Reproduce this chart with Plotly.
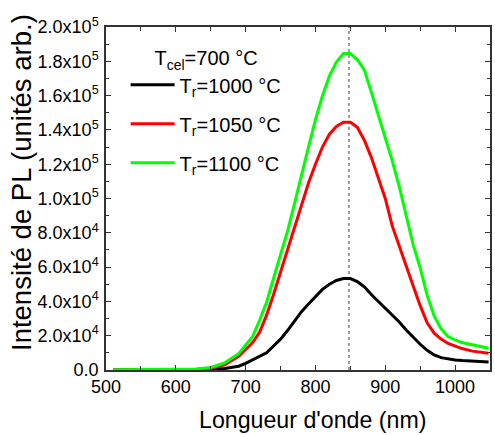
import plotly.graph_objects as go

# Wavelength sampling (nm)
wavelength = [510, 560, 600, 630, 650, 670, 690,
              700, 710, 720, 730, 740, 750, 760, 770, 780, 790, 800, 810, 820, 830, 840,
              850, 860, 870, 880, 890, 900, 910, 920, 930, 940, 950, 960, 970, 980, 990,
              1000, 1010, 1025, 1048]

# PL intensity (in units of 1e4, arb.)
pl_1000 = [0.02, 0.02, 0.02, 0.02, 0.04, 0.09, 0.22,
           0.39, 0.6, 0.78, 1.0, 1.4, 1.8, 2.3, 2.85, 3.4, 3.85, 4.3, 4.7, 5.0, 5.22, 5.33,
           5.33, 5.15, 4.85, 4.4, 4.0, 3.6, 3.25, 2.8, 2.33, 1.9, 1.5, 1.15, 0.88, 0.72, 0.63,
           0.58, 0.55, 0.51, 0.47]
pl_1050 = [0.02, 0.02, 0.03, 0.05, 0.1, 0.3, 0.8,
           1.2, 1.6, 2.2, 3.2, 4.4, 5.7, 7.0, 8.3, 9.6, 10.9, 12.0, 13.0, 13.75, 14.2, 14.45,
           14.45, 14.15, 13.4, 12.4, 11.2, 10.0, 8.4, 7.2, 6.0, 4.9, 3.75, 2.75, 2.15, 1.8, 1.55,
           1.38, 1.25, 1.1, 0.97]
pl_1100 = [0.02, 0.02, 0.03, 0.06, 0.15, 0.42, 0.95,
           1.46, 1.95, 2.9, 3.95, 5.35, 6.7, 8.1, 9.7, 11.4, 13.0, 14.6, 16.0, 17.15, 17.95, 18.45,
           18.45, 18.1, 17.5, 16.2, 14.9, 13.6, 12.2, 10.7, 9.0, 7.3, 5.95, 4.35, 3.15, 2.4, 1.95,
           1.75, 1.6, 1.46, 1.27]

series_names = ["T<sub>r</sub>=1000 °C", "T<sub>r</sub>=1050 °C", "T<sub>r</sub>=1100 °C"]
series_values = [pl_1000, pl_1050, pl_1100]
series_colors = ["#000000", "#ff0000", "#00ff00"]
scale = 1e4

peak_nm = 848

y_tickvals = [0, 2e4, 4e4, 6e4, 8e4, 1e5, 1.2e5, 1.4e5, 1.6e5, 1.8e5, 2e5]
y_ticktext = ["0.0", "2.0x10<sup>4</sup>", "4.0x10<sup>4</sup>", "6.0x10<sup>4</sup>",
              "8.0x10<sup>4</sup>", "1.0x10<sup>5</sup>", "1.2x10<sup>5</sup>",
              "1.4x10<sup>5</sup>", "1.6x10<sup>5</sup>", "1.8x10<sup>5</sup>",
              "2.0x10<sup>5</sup>"]
x_tickvals = [500, 600, 700, 800, 900, 1000]

FONT = "Liberation Sans, Arial, sans-serif"

fig = go.Figure()
for i, (name, vals, col) in enumerate(zip(series_names, series_values, series_colors)):
    fig.add_trace(go.Scatter(
        x=wavelength, y=[v * scale for v in vals], mode="lines", name=name,
        line=dict(color=col, width=3),
        legendgroup=f"g{i}",
    ))

fig.add_shape(type="line", xref="x", yref="y", x0=peak_nm, x1=peak_nm, y0=0, y1=2e5,
              line=dict(color="#808080", width=1.5, dash="dot"), layer="below")

axis_common = dict(
    showline=True, linecolor="#333333", linewidth=1.5, mirror="allticks",
    ticks="inside", ticklen=5, tickwidth=1.2, tickcolor="#333333",
    showgrid=False, zeroline=False, automargin=False,
    tickfont=dict(family=FONT, size=18, color="#000"),
)

fig.update_xaxes(
    range=[500, 1050], tickvals=x_tickvals,
    minor=dict(dtick=50, tick0=500, ticks="inside", ticklen=4, tickcolor="#333333"),
    **axis_common,
)
fig.update_yaxes(
    range=[0, 2e5], tickvals=y_tickvals, ticktext=y_ticktext, ticklabelstandoff=2,
    minor=dict(dtick=1e4, tick0=0, ticks="inside", ticklen=3, tickcolor="#333333"),
    **axis_common,
)

# Axis titles
fig.add_annotation(text="Longueur d'onde (nm)", xref="paper", yref="paper",
                   x=(312 - 106) / 384, y=-(420 - 370) / 343, xanchor="center", yanchor="middle",
                   showarrow=False, font=dict(family=FONT, size=23.2, color="#000"))
fig.add_annotation(text="Intensité de PL (unités arb.)", xref="paper", yref="paper",
                   x=-(106 - 21) / 384, y=(370 - 183) / 343, xanchor="center", yanchor="middle",
                   textangle=-90, showarrow=False,
                   font=dict(family=FONT, size=27.5, color="#000"))

fig.update_layout(
    width=495, height=435,
    margin=dict(l=106, r=5, t=27, b=65),
    plot_bgcolor="white", paper_bgcolor="white",
    font=dict(family=FONT, color="#000"),
    legend=dict(
        x=0.051, y=0.964, xanchor="left", yanchor="top",
        bgcolor="rgba(0,0,0,0)", font=dict(family=FONT, size=20, color="#000"),
        title=dict(text="T<sub>cel</sub>=700 °C", side="top center",
                   font=dict(family=FONT, size=20, color="#000")),
        itemwidth=44, tracegroupgap=10,
    ),
    showlegend=True,
)

# remove the browser's default 8 px body margin so the figure fills the window
fig.write_html("out.html", config={"displayModeBar": False},
               post_script="document.body.style.margin='0px';")
